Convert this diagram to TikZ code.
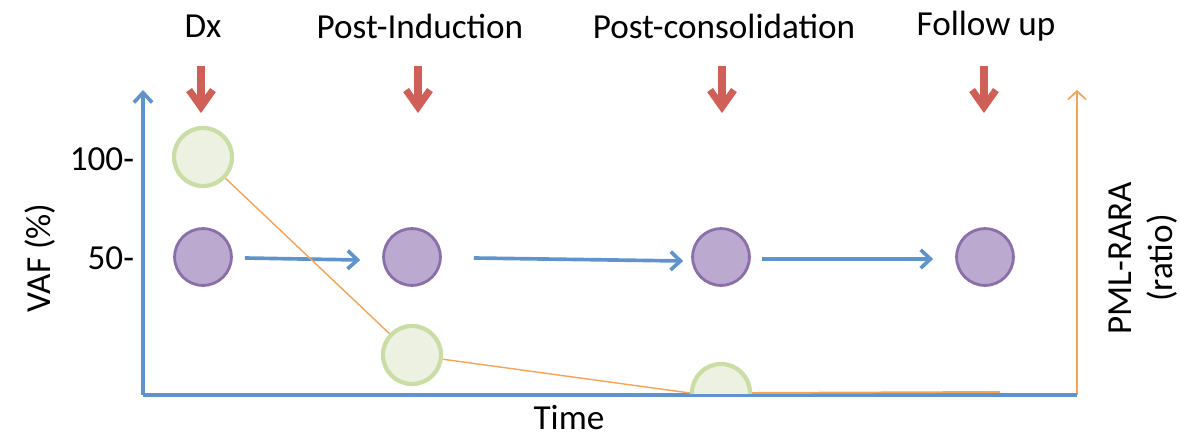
\documentclass[tikz,border=0pt]{standalone}
\usepackage{fontspec}
\setmainfont{Carlito}
\usetikzlibrary{arrows.meta,calc}

\definecolor{axisblue}{HTML}{5F93CB}
\definecolor{tipred}{HTML}{CF5F57}
\definecolor{pmlorange}{HTML}{F8A256}
\definecolor{vafgreen}{HTML}{ECF1E1}
\definecolor{vafgreenline}{HTML}{CADDA5}
\definecolor{clonefill}{HTML}{BCA9D0}
\definecolor{cloneline}{HTML}{8A6FAA}

\tikzset{
  greendot/.style={circle, fill=vafgreen, draw=vafgreenline, line width=3pt, inner sep=0pt, minimum size=1.45cm},
  clonedot/.style={circle, fill=clonefill, draw=cloneline, line width=2pt, inner sep=0pt, minimum size=1.42cm},
  bluearrow/.style={draw=axisblue, line width=2.6pt, -{Straight Barb[length=7pt,width=13pt,line width=2.6pt]}},
  redarrow/.style={draw=tipred, line width=5pt, -{Straight Barb[length=12pt,width=17pt,line width=5pt]}}
}

\begin{document}
\begin{tikzpicture}[x=0.025cm, y=-0.025cm, font=\fontsize{25}{29}\selectfont]
  \useasboundingbox (0,0) rectangle (1180,441);

  % axes
  \coordinate (origin) at (143,395);
  \coordinate (vaftop) at (143,90);
  \coordinate (timeend) at (1077,395);
  \coordinate (pmltop) at (1077,90);
  \draw[draw=pmlorange, line width=1.2pt, -{Straight Barb[length=6pt,width=13pt,line width=1.2pt]}] (timeend) -- (pmltop);
  \draw[bluearrow] (origin) -- (vaftop);
  \draw[draw=axisblue, line width=2.6pt] (origin) -- (timeend);

  \node[rotate=90] (vaf) at (40,258) {VAF (\%)};
  \node[rotate=90, align=center] (pml) at (1143,258) {PML-RARA\\(ratio)};
  \node[inner sep=0pt] (time) at (569,418) {Time};
  \node[anchor=east] (hundred) at (139,159) {100-};
  \node[anchor=east] (fifty) at (139,258) {50-};

  % time points
  \foreach \x/\t/\n in {203/Dx/dx, 420/Post-Induction/ind, 724/Post-consolidation/cons, 986/Follow up/fu} {
    \node (\n) at (\x,26) {\t};
    \coordinate (\n top) at (\x-2,66);
    \coordinate (\n tip) at (\x-2,113);
    \draw[redarrow] (\n top) -- (\n tip);
  }

  % clone VAF
  \foreach \x/\n in {203/c1, 412/c2, 721/c3, 985/c4}
    \node[clonedot] (\n) at (\x,257) {};
  \coordinate (a1) at ($(c1.east)+(12,1)$);
  \coordinate (b1) at ($(c2.west)+(-22,3)$);
  \coordinate (a2) at ($(c2.east)+(32,1)$);
  \coordinate (b2) at ($(c3.west)+(-8,4)$);
  \coordinate (a3) at ($(c3.east)+(11,2)$);
  \coordinate (b3) at ($(c4.west)+(-22,2)$);
  \foreach \i in {1,2,3}
    \draw[bluearrow] (a\i) -- (b\i);

  % PML-RARA
  \node[greendot] (g1) at (203,157) {};
  \node[greendot] (g2) at (412,355) {};
  \begin{scope}
    \clip (650,300) rectangle (800,393);
    \node[greendot] (g3) at (721,393) {};
  \end{scope}
  \coordinate (pmlend) at (1000,392);
  \draw[draw=pmlorange, line width=1pt] (g1) -- (g2);
  \draw[draw=pmlorange, line width=1pt] (g2) -- (g3.west);
  \draw[draw=pmlorange, line width=1.4pt] (g3.east) -- (pmlend);
\end{tikzpicture}
\end{document}
